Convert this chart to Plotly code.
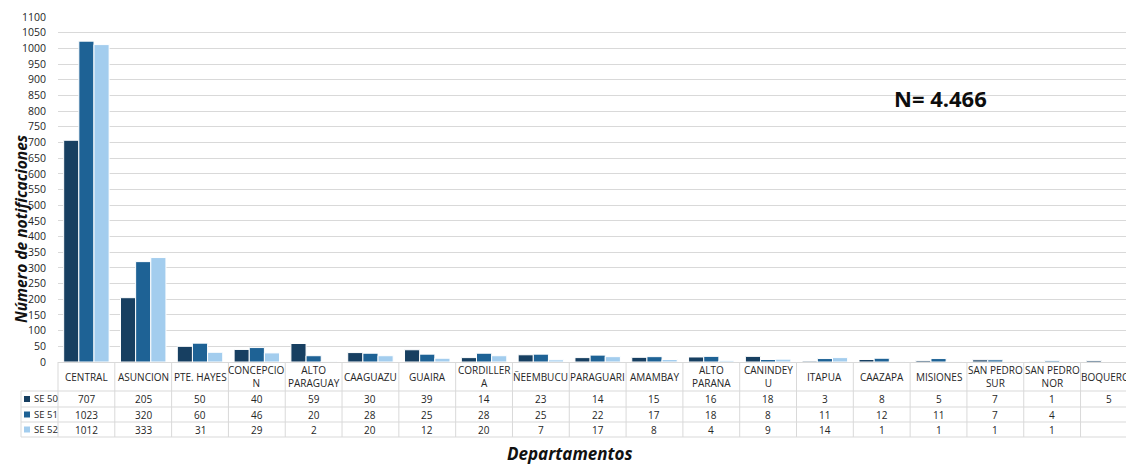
import plotly.graph_objects as go

# Notificaciones por departamento, semanas epidemiológicas 50-52
departamentos = ["CENTRAL", "ASUNCION", "PTE. HAYES", "CONCEPCION", "ALTO PARAGUAY",
                 "CAAGUAZU", "GUAIRA", "CORDILLERA", "ÑEEMBUCU", "PARAGUARI", "AMAMBAY",
                 "ALTO PARANA", "CANINDEYU", "ITAPUA", "CAAZAPA", "MISIONES",
                 "SAN PEDRO SUR", "SAN PEDRO NOR", "BOQUERON"]
etiquetas = ["CENTRAL", "ASUNCION", "PTE. HAYES", "CONCEPCIO<br>N", "ALTO<br>PARAGUAY",
             "CAAGUAZU", "GUAIRA", "CORDILLER<br>A", "ÑEEMBUCU", "PARAGUARI", "AMAMBAY",
             "ALTO<br>PARANA", "CANINDEY<br>U", "ITAPUA", "CAAZAPA", "MISIONES",
             "SAN PEDRO<br>SUR", "SAN PEDRO<br>NOR", "BOQUERON"]
se50 = [707, 205, 50, 40, 59, 30, 39, 14, 23, 14, 15, 16, 18, 3, 8, 5, 7, 1, 5]
se51 = [1023, 320, 60, 46, 20, 28, 25, 28, 25, 22, 17, 18, 8, 11, 12, 11, 7, 4, None]
se52 = [1012, 333, 31, 29, 2, 20, 12, 20, 7, 17, 8, 4, 9, 14, 1, 1, 1, 1, None]
series = [("SE 50", se50, "#173f61"), ("SE 51", se51, "#1e6295"), ("SE 52", se52, "#a3cdee")]
y_ticks = list(range(0, 1101, 50))
total_label = "N= 4.466"

FONT = "Open Sans, Noto Sans, sans-serif"
TXT = "#262626"

W_FIG, H_FIG = 1126, 465
M_L, M_R, M_T, M_B = 58, 0, 17, 103
PW, PH = W_FIG - M_L - M_R, H_FIG - M_T - M_B
X0, X1 = -0.5, 18.3


def px_x(px):
    return (px - M_L) / PW


def px_y(py):
    return (H_FIG - M_B - py) / PH


def cat_paper(k):
    # paper x of a position given in category units
    return (k - X0) / (X1 - X0)


fig = go.Figure()
xs = list(range(len(departamentos)))
for name, vals, col in series:
    fig.add_trace(go.Bar(x=xs, y=vals, name=name, marker=dict(color=col, line=dict(color="white", width=1)),
                         showlegend=False))

shapes = []
annotations = []

# data table grid
row_lines = [391, 407, 422, 437]
for py in row_lines:
    shapes.append(dict(type="line", xref="paper", yref="paper", x0=px_x(21), x1=cat_paper(len(departamentos) - 0.5),
                       y0=px_y(py), y1=px_y(py), line=dict(color="#d9d9d9", width=1)))
shapes.append(dict(type="line", xref="paper", yref="paper", x0=px_x(21), x1=px_x(21),
                   y0=px_y(391), y1=px_y(437), line=dict(color="#d9d9d9", width=1)))
for k in range(len(departamentos) + 1):
    xp = cat_paper(k - 0.5)
    shapes.append(dict(type="line", xref="paper", yref="paper", x0=xp, x1=xp,
                       y0=px_y(362), y1=px_y(437), line=dict(color="#d9d9d9", width=1)))

# category header labels
for i, lab in enumerate(etiquetas):
    annotations.append(dict(x=i, y=px_y(376.5), xref="x", yref="paper", text=lab, showarrow=False,
                            font=dict(family=FONT, size=10, color=TXT), xanchor="center", yanchor="middle"))

# table rows: legend key + values
row_centres = [399, 414.5, 429.5]
for (name, vals, col), py in zip(series, row_centres):
    shapes.append(dict(type="rect", xref="paper", yref="paper", x0=px_x(24), x1=px_x(30),
                       y0=px_y(py + 3), y1=px_y(py - 3), line=dict(width=0), fillcolor=col))
    annotations.append(dict(x=px_x(32), y=px_y(py), xref="paper", yref="paper", text=name, showarrow=False,
                            font=dict(family=FONT, size=9.5, color=TXT), xanchor="left", yanchor="middle"))
    for i, v in enumerate(vals):
        if v is None:
            continue
        annotations.append(dict(x=i, y=px_y(py), xref="x", yref="paper", text=str(v), showarrow=False,
                                font=dict(family=FONT, size=10, color=TXT), xanchor="center", yanchor="middle"))

# axis titles
annotations.append(dict(x=px_x(570), y=px_y(453), xref="paper", yref="paper",
                        text="<i><b>Departamentos</b></i>", showarrow=False,
                        font=dict(family=FONT, size=17, color="#111111"), xanchor="center", yanchor="middle"))
annotations.append(dict(x=px_x(21), y=px_y(229), xref="paper", yref="paper", textangle=-90,
                        text="<i><b>Número de notificaciones</b></i>", showarrow=False,
                        font=dict(family=FONT, size=15.5, color="#111111"), xanchor="center", yanchor="middle"))
annotations.append(dict(x=px_x(940), y=px_y(98), xref="paper", yref="paper", text="<b>" + total_label + "</b>",
                        showarrow=False, font=dict(family=FONT, size=22, color="#0d0d0d"),
                        xanchor="center", yanchor="middle"))

fig.update_layout(
    width=W_FIG, height=H_FIG,
    margin=dict(l=M_L, r=M_R, t=M_T, b=M_B, autoexpand=False),
    paper_bgcolor="white", plot_bgcolor="white",
    barmode="group", bargap=0.2, bargroupgap=0,
    shapes=shapes, annotations=annotations,
    xaxis=dict(range=[X0, X1], showticklabels=False, showgrid=False, zeroline=False, showline=False, ticks=""),
    yaxis=dict(range=[0, 1100], tickvals=y_ticks, showgrid=True, gridcolor="#d9d9d9", gridwidth=1,
               zeroline=True, zerolinecolor="#d9d9d9", zerolinewidth=1,
               ticks="outside", ticklen=9, tickcolor="rgba(0,0,0,0)",
               tickfont=dict(family=FONT, size=10.5, color=TXT), showline=False),
)

fig.write_html("out.html")
